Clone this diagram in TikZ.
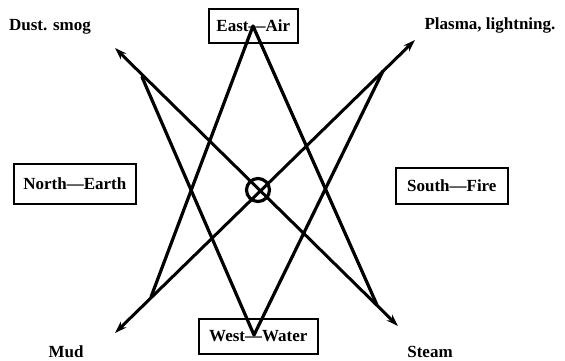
\documentclass[tikz,border=0pt]{standalone}
\usepackage{fontspec}
\setmainfont{Liberation Serif}
\usetikzlibrary{arrows.meta}
\begin{document}
\begin{tikzpicture}[x=1pt,y=-1pt,
  lbl/.style={font=\fontsize{17}{19}\selectfont\bfseries, inner sep=0pt},
  dirbox/.style={draw, line width=1.6pt, font=\fontsize{17}{19}\selectfont\bfseries, inner sep=0pt, anchor=north west},
  bar/.style={line width=3.2pt, line cap=round},
  arr/.style={line width=3pt, {Stealth[length=12pt,width=8pt]}-{Stealth[length=12pt,width=8pt]}}
]
\useasboundingbox (0,0) rectangle (565,360);
% boxes
\node[dirbox, minimum width=89pt, minimum height=34pt] (east) at (208,8) {East—Air};
\node[dirbox, minimum width=119pt, minimum height=35pt] (west) at (198,318) {West—Water};
\node[dirbox, minimum width=122pt, minimum height=40pt] (north) at (13,163) {North—Earth};
\node[dirbox, minimum width=112pt, minimum height=36pt] (south) at (395,167) {South—Fire};
% labels
\node[lbl] (dust) at (50,27) {Dust. smog};
\node[lbl] (plasma) at (490,25) {Plasma, lightning.};
\node[lbl] (mud) at (66,352) {Mud};
\node[lbl] (steam) at (430,352) {Steam};
% points
\coordinate (A) at (253,26);
\coordinate (B) at (254,335);
\coordinate (UL) at (142,77);
\coordinate (UR) at (383,71);
\coordinate (LL) at (151,297);
\coordinate (LR) at (377,305);
\coordinate (dustTip) at (115,48);
\coordinate (plasmaTip) at (415,40);
\coordinate (mudTip) at (115,333);
\coordinate (steamTip) at (398,326);
% center
\node[draw, circle, line width=3.2pt, minimum size=23pt, inner sep=0pt] (c) at (258,190) {};
% Vs
\draw[bar] (A) -- (LL);
\draw[bar] (A) -- (LR);
\draw[bar] (B) -- (UL);
\draw[bar] (B) -- (UR);
% arrows through center
\draw[arr] (dustTip) -- (steamTip);
\draw[arr] (mudTip) -- (plasmaTip);
\end{tikzpicture}
\end{document}
